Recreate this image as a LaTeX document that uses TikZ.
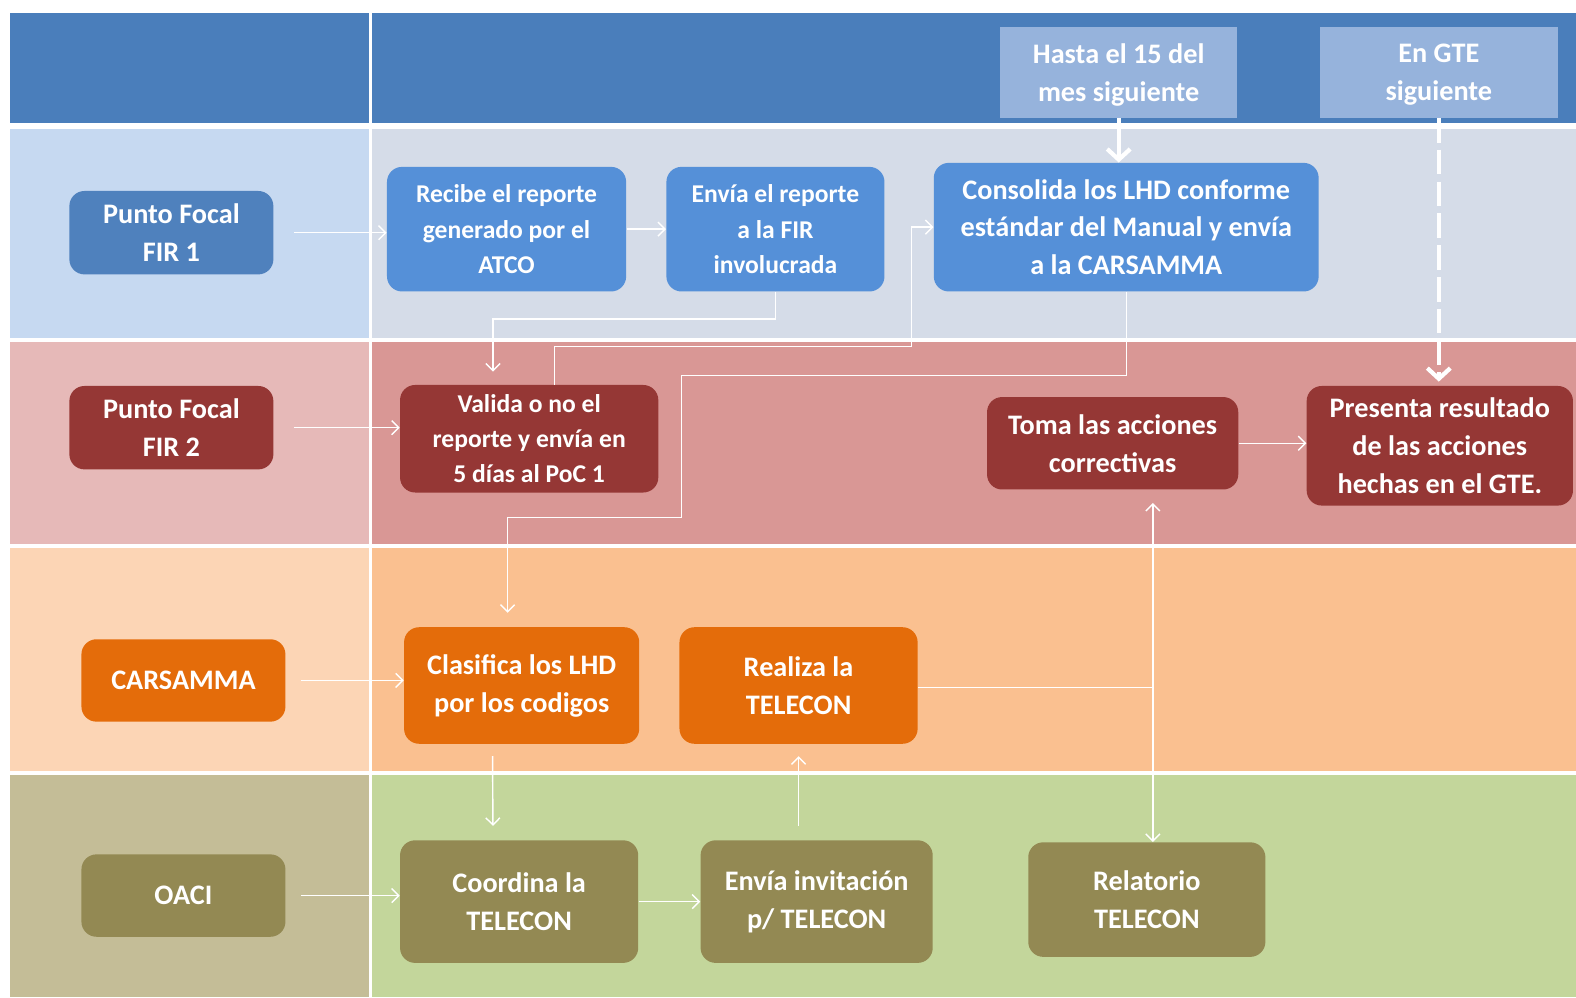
\documentclass[tikz,border=0pt]{standalone}
\usepackage{fontspec}
\setmainfont{Carlito}
\usetikzlibrary{calc,arrows.meta}
\definecolor{entete}{HTML}{4A7EBB}
\definecolor{etiq}{HTML}{96B3DC}
\definecolor{bleuA}{HTML}{C6D9F1}
\definecolor{bleuB}{HTML}{D5DCE8}
\definecolor{rougeA}{HTML}{E6B9B8}
\definecolor{rougeB}{HTML}{D99795}
\definecolor{orangeA}{HTML}{FCD5B5}
\definecolor{orangeB}{HTML}{FAC090}
\definecolor{vertA}{HTML}{C4BD97}
\definecolor{vertB}{HTML}{C3D69B}
\definecolor{bleuF}{HTML}{4F81BD}
\definecolor{bleuN}{HTML}{5590D8}
\definecolor{rougeN}{HTML}{953735}
\definecolor{orangeN}{HTML}{E46C0A}
\definecolor{oliveN}{HTML}{938953}
\begin{document}
\begin{tikzpicture}
    [x=0.02cm,y=-0.02cm,%
    fleche/.style={->,>={Straight Barb[length=4pt,width=8pt]},white,line width=0.8pt},
    trait/.style={white,line width=0.8pt},
    grosse/.style={->,>={Straight Barb[length=6pt,width=13pt]},white,line width=2.4pt}]
    \tikzstyle{boite}=[rounded corners=0.3cm,text=white,align=center,
      font=\bfseries\fontsize{16}{21.5}\selectfont,inner sep=2pt]
    \tikzstyle{petite}=[boite,font=\bfseries\fontsize{14.5}{20}\selectfont]
    \useasboundingbox (0,0) rectangle (1568,992);
    % bandes
    \fill[entete] (10,13) rectangle (367,122);
    \fill[entete] (370,13) rectangle (1568,122);
    \fill[bleuA] (10,128) rectangle (367,336);
    \fill[bleuB] (370,128) rectangle (1568,336);
    \fill[rougeA] (10,340) rectangle (367,541);
    \fill[rougeB] (370,340) rectangle (1568,541);
    \fill[orangeA] (10,545) rectangle (367,767);
    \fill[orangeB] (370,545) rectangle (1568,767);
    \fill[vertA] (10,771) rectangle (367,992);
    \fill[vertB] (370,771) rectangle (1568,992);

    \node[boite,rounded corners=0pt,fill=etiq,minimum width=4.72cm,minimum height=1.8cm,text depth=-6pt] (Hasta) at (1113,72) {Hasta el 15 del\\mes siguiente};
    \node[boite,rounded corners=0pt,fill=etiq,minimum width=4.74cm,minimum height=1.8cm,text depth=-6pt] (GTE) at (1431.5,72) {En GTE\\siguiente};

    \node[boite,fill=bleuF,minimum width=4.06cm,minimum height=1.66cm] (PF1) at (170.5,231.5) {Punto Focal\\FIR 1};
    \node[petite,fill=bleuN,minimum width=4.76cm,minimum height=2.48cm] (Rec) at (504,228) {Recibe el reporte\\generado por el\\ATCO};
    \node[petite,fill=bleuN,minimum width=4.34cm,minimum height=2.48cm] (Env) at (771.5,228) {Envía el reporte\\a la FIR\\involucrada};
    \node[boite,fill=bleuN,minimum width=7.66cm,minimum height=2.56cm] (Cons) at (1120.5,226) {Consolida los LHD conforme\\estándar del Manual y envía\\a la CARSAMMA};

    \node[boite,fill=rougeN,minimum width=4.06cm,minimum height=1.66cm] (PF2) at (170.5,425.5) {Punto Focal\\FIR 2};
    \node[petite,fill=rougeN,minimum width=5.14cm,minimum height=2.14cm] (Val) at (526.5,436.5) {Valida o no el\\reporte y envía en\\5 días al PoC 1};
    \node[boite,fill=rougeN,minimum width=5cm,minimum height=1.84cm] (Toma) at (1107,441) {Toma las acciones\\correctivas};
    \node[boite,fill=rougeN,minimum width=5.3cm,minimum height=2.38cm] (Pres) at (1432.5,443.5) {Presenta resultado\\de las acciones\\hechas en el GTE.};

    \node[boite,fill=orangeN,minimum width=4.06cm,minimum height=1.64cm] (CAR) at (182.5,677) {CARSAMMA};
    \node[boite,fill=orangeN,minimum width=4.68cm,minimum height=2.32cm] (Clas) at (519,682) {Clasifica los LHD\\por los codigos};
    \node[boite,fill=orangeN,minimum width=4.74cm,minimum height=2.32cm] (Real) at (794.5,682) {Realiza la\\TELECON};

    \node[boite,fill=oliveN,minimum width=4.06cm,minimum height=1.64cm] (OACI) at (182.5,891) {OACI};
    \node[boite,fill=oliveN,minimum width=4.74cm,minimum height=2.44cm] (Coord) at (516.5,897) {Coordina la\\TELECON};
    \node[boite,fill=oliveN,minimum width=4.62cm,minimum height=2.44cm] (Inv) at (812.5,897) {Envía invitación\\p/ TELECON};
    \node[boite,fill=oliveN,minimum width=4.72cm,minimum height=2.28cm] (Rel) at (1141,895) {Relatorio\\TELECON};

    \coordinate (K) at (678,515);
    \coordinate (J) at (1147,684);

    % separations
    \draw[white,line width=1.5pt] (368.5,13) -- (368.5,992);

    \draw[fleche,shorten <=0.4cm] (PF1.east) -- (Rec.west |- PF1.east);
    \draw[fleche] (Rec) -- (Env);
    \draw[fleche,shorten >=0.26cm] (Env.south) -- ++(0,27) -| ($(Val.north)+(-36,0)$);
    \draw[fleche] ($(Val.north)+(25,0)$) -- ++(0,-38) -| ($(Cons.west)+(-22,0)$) -- (Cons.west);
    \draw[fleche,shorten >=0.28cm] (Cons.south) -- ++(0,83) -| (K) -| ($(Clas.north)+(-14,0)$);
    \draw[fleche,shorten <=0.4cm] (PF2.east) -- (Val.west |- PF2.east);
    \draw[fleche] (Toma.east) -- (Pres.west |- Toma.east);
    \draw[fleche,shorten <=0.3cm] (CAR.east) -- (Clas.west |- CAR.east);
    \draw[fleche,shorten <=0.24cm,shorten >=0.28cm] ($(Clas.south)+(-29,0)$) -- ($(Coord.north)+(-26,0)$);
    \draw[fleche,shorten <=0.3cm] (OACI.east) -- (Coord.west |- OACI.east);
    \draw[fleche] (Coord) -- (Inv);
    \draw[fleche,shorten <=0.28cm,shorten >=0.24cm] (Real.south |- Inv.north) -- (Real.south);
    \draw[trait] (Real.east |- J) -- (J);
    \draw[fleche,shorten >=0.26cm] (J) -- (Toma.south -| J);
    \draw[fleche] (J) -- (Rel.north -| J);

    \draw[grosse] (Hasta.south) -- (Hasta.south |- Cons.north);
    \draw[grosse,dash pattern=on 14pt off 4pt] (GTE.south) -- ($(GTE.south |- Pres.north)+(0,-4)$);
\end{tikzpicture}
\end{document}
